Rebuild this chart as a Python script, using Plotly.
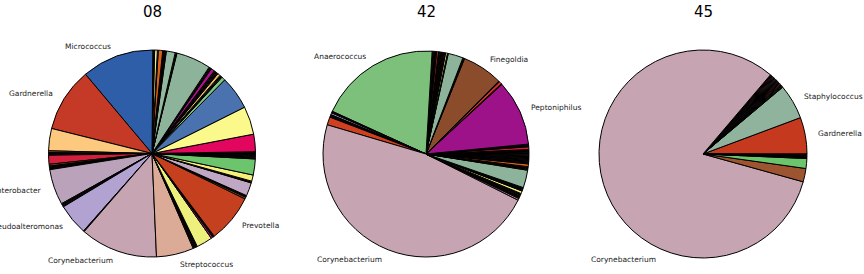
import math
import plotly.graph_objects as go

W, H = 864, 274

samples = ["08", "42", "45"]

# ---- sample 08 (relative abundance, %, in drawing order from 3 o'clock, counter-clockwise)
values_08 = [
    0.14, 0.14,
    2.72,
    4.39,
    5.22,
    0.58,
    0.14, 0.14, 0.14,
    0.42,
    0.14, 0.14, 0.14, 0.14, 0.14,
    0.56,
    0.14, 0.14, 0.14,
    5.42,
    0.14, 0.14,
    1.39,
    0.14, 0.14, 0.14, 0.14,
    0.69,
    0.14,
    0.42,
    0.14, 0.14,
    11.25,
    10.00,
    3.47,
    0.28,
    0.14, 0.14, 0.14,
    1.39,
    0.28,
    0.14, 0.14, 0.14, 0.14,
    5.56,
    0.14, 0.14, 0.14, 0.14,
    4.86,
    0.14,
    12.08,
    5.83,
    0.14, 0.14, 0.14, 0.14, 0.14,
    2.50,
    0.28,
    0.14, 0.14,
    7.50,
    0.28,
    0.14, 0.14,
    2.08,
    0.14, 0.14,
    0.97,
    2.50,
    0.14, 0.14, 0.14, 0.14, 0.14, 0.14,
]
labels_08 = [
    "", "",
    "",
    "",
    "",
    "",
    "", "", "",
    "",
    "", "", "", "", "",
    "",
    "", "", "",
    "",
    "", "",
    "",
    "", "", "", "",
    "",
    "",
    "",
    "", "",
    "Micrococcus",
    "Gardnerella",
    "",
    "",
    "", "", "",
    "",
    "",
    "", "", "", "",
    "Enterobacter",
    "", "", "", "",
    "Pseudoalteromonas",
    "",
    "Corynebacterium",
    "Streptococcus",
    "", "", "", "", "",
    "",
    "",
    "", "",
    "Prevotella",
    "",
    "", "",
    "",
    "", "",
    "",
    "",
    "", "", "", "", "", "",
]
colors_08 = [
    "", "",
    "#e2065e",
    "#fbf98c",
    "#4a72ae",
    "#7fc97f",
    "", "", "",
    "#e8c060",
    "", "", "", "", "",
    "#b0108a",
    "", "", "",
    "#8db39b",
    "", "",
    "#93b8a0",
    "", "", "", "",
    "#d9621a",
    "",
    "#f2e88a",
    "", "",
    "#2f5ea8",
    "#c53a26",
    "#fdc97f",
    "#9a4a1a",
    "", "", "",
    "#d4203f",
    "#9a4a1a",
    "", "", "", "",
    "#b9a2ba",
    "", "", "", "",
    "#b1a2d2",
    "",
    "#c6a4b2",
    "#dcab97",
    "", "", "", "", "",
    "#eef07e",
    "#c0107a",
    "", "",
    "#c5401e",
    "#8a4a1a",
    "", "",
    "#c0a8c4",
    "", "",
    "#f5f07a",
    "#6cc46c",
    "", "", "", "", "", "",
]

# ---- sample 42
values_42 = [
    0.14, 0.14, 0.14, 0.14, 0.14,
    0.42,
    0.14, 0.14, 0.14,
    10.28,
    0.14,
    0.42,
    0.14,
    6.39,
    0.14, 0.14,
    2.36,
    0.14,
    0.28,
    0.14, 0.14, 0.14, 0.14, 0.14, 0.14, 0.14, 0.14,
    0.28,
    0.14, 0.14, 0.14, 0.14, 0.14,
    19.17,
    0.14, 0.14,
    0.28,
    0.14, 0.14, 0.14,
    1.25,
    47.22,
    0.28,
    0.14, 0.14, 0.14, 0.14, 0.14, 0.14,
    0.42,
    0.14, 0.14, 0.14, 0.14,
    2.78,
    0.14, 0.14, 0.14, 0.14,
    0.42,
    0.14, 0.14, 0.14, 0.14, 0.14, 0.14, 0.14, 0.14, 0.14, 0.14, 0.14,
]
labels_42 = [
    "", "", "", "", "",
    "",
    "", "", "",
    "Peptoniphilus",
    "",
    "",
    "",
    "Finegoldia",
    "", "",
    "",
    "",
    "",
    "", "", "", "", "", "", "", "",
    "",
    "", "", "", "", "",
    "Anaerococcus",
    "", "",
    "",
    "", "", "",
    "",
    "Corynebacterium",
    "",
    "", "", "", "", "", "",
    "",
    "", "", "", "",
    "",
    "", "", "", "",
    "",
    "", "", "", "", "", "", "", "", "", "", "",
]
colors_42 = [
    "", "", "", "", "",
    "#d62040",
    "", "", "",
    "#9e1289",
    "",
    "#e0302a",
    "",
    "#8b4c2c",
    "", "",
    "#8db39b",
    "",
    "#f0f090",
    "", "", "", "", "", "", "", "",
    "#d03020",
    "", "", "", "", "",
    "#7cc07c",
    "", "",
    "#b8a8d8",
    "", "", "",
    "#d04020",
    "#c6a4b2",
    "#b890a8",
    "", "", "", "", "", "",
    "#eef07e",
    "", "", "", "",
    "#8db39b",
    "", "", "", "",
    "#d9621a",
    "", "", "", "", "", "", "", "", "", "", "",
]

# ---- sample 45
values_45 = [
    5.69,
    5.42,
    0.14, 0.14, 0.14, 0.14, 0.14, 0.14, 0.14, 0.14, 0.14, 0.14,
    0.14, 0.14, 0.14, 0.14, 0.14, 0.14, 0.14, 0.14, 0.14,
    81.94,
    2.08,
    1.53,
    0.14, 0.14, 0.14, 0.14, 0.14,
]
labels_45 = [
    "Gardnerella",
    "Staphylococcus",
    "", "", "", "", "", "", "", "", "", "",
    "", "", "", "", "", "", "", "", "",
    "Corynebacterium",
    "",
    "",
    "", "", "", "", "",
]
colors_45 = [
    "#c5391f",
    "#8fb39c",
    "", "", "", "", "", "", "", "", "", "",
    "", "", "", "", "", "", "", "", "",
    "#c6a4b2",
    "#9c5530",
    "#6cc46c",
    "", "", "", "", "",
]

data = {
    "08": (values_08, labels_08, colors_08),
    "42": (values_42, labels_42, colors_42),
    "45": (values_45, labels_45, colors_45),
}

# layout: pie centre (px) and radius (px)
geom = {"08": (152, 153.5, 103.5), "42": (426, 154, 103), "45": (703, 154, 104)}
label_angle_override = {("45", "Corynebacterium"): 247}

minor_cycle = ["#1b1b1b", "#bf5b17", "#2c4a7a", "#333333", "#e0702a",
               "#4a4a66", "#7a3a1a", "#c0107a", "#222222", "#6a8a70"]

fig = go.Figure()
annotations = []
for s in samples:
    vals, labs, cols = data[s]
    assert len(vals) == len(labs) == len(cols), s
    k = 0
    full_cols = []
    for c in cols:
        if c:
            full_cols.append(c)
        else:
            full_cols.append(minor_cycle[k % len(minor_cycle)])
            k += 1
    cx, cy, r = geom[s]
    total = sum(vals)
    # plotly places the first slice clockwise of `rotation` when counterclockwise;
    # shift so that the first slice starts at 3 o'clock and grows upward (matplotlib style)
    first_deg = vals[0] / total * 360.0
    fig.add_trace(go.Pie(
        values=vals,
        sort=False,
        direction="counterclockwise",
        rotation=90 - first_deg,
        marker=dict(colors=full_cols, line=dict(color="black", width=1)),
        textinfo="none",
        hoverinfo="skip",
        showlegend=False,
        domain=dict(x=[(cx - r) / W, (cx + r) / W], y=[1 - (cy + r) / H, 1 - (cy - r) / H]),
    ))
    start = 0.0
    for v, lab in zip(vals, labs):
        a = v / total * 360.0
        mid = start + a / 2
        start += a
        if not lab:
            continue
        ang = label_angle_override.get((s, lab), mid)
        t = math.radians(ang)
        lx = cx + 1.1 * r * math.cos(t)
        ly = cy - 1.1 * r * math.sin(t)
        annotations.append(dict(
            x=lx / W, y=1 - ly / H, xref="paper", yref="paper",
            text=lab, showarrow=False,
            xanchor="left" if math.cos(t) > 0 else "right", yanchor="middle",
            font=dict(family="DejaVu Sans", size=7.5, color="#1a1a1a"),
        ))
    annotations.append(dict(
        x=cx / W, y=1 - 12 / H, xref="paper", yref="paper",
        text=s, showarrow=False, xanchor="center", yanchor="middle",
        font=dict(family="DejaVu Sans", size=15, color="black"),
    ))

fig.update_layout(
    width=W, height=H,
    margin=dict(l=0, r=0, t=0, b=0),
    paper_bgcolor="white", plot_bgcolor="white",
    annotations=annotations,
)
fig.write_html("out.html")
